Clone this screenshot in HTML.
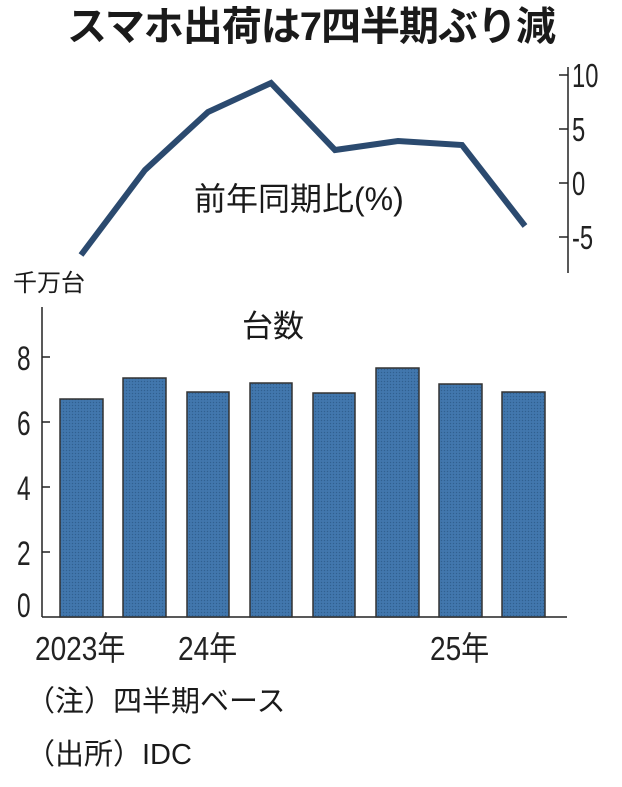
<!DOCTYPE html>
<html><head><meta charset="utf-8"><style>
html,body{margin:0;padding:0;background:#fff;}
body{width:622px;height:787px;position:relative;overflow:hidden;font-family:"Liberation Sans","Noto Sans CJK JP",sans-serif;color:#1a1a1a;}
.t{position:absolute;white-space:nowrap;line-height:1;}
</style></head><body>
<div class="t" style="left:0;width:622px;text-align:center;top:7px;font-size:40px;font-weight:bold;letter-spacing:-1px;">スマホ出荷は7四半期ぶり減</div>
<svg width="622" height="787" style="position:absolute;left:0;top:0">
<defs>
<pattern id="p" width="3" height="3" patternUnits="userSpaceOnUse">
<rect width="3" height="3" fill="#3f74aa"/><rect width="1" height="1" fill="#31608f"/><rect x="1.5" y="1.5" width="1" height="1" fill="#4a80b5"/>
</pattern>
</defs>
<line x1="568" y1="67" x2="568" y2="273" stroke="#222" stroke-width="1.5"/>
<g stroke="#222" stroke-width="1.5">
<line x1="559" y1="75" x2="568" y2="75"/><line x1="559" y1="129" x2="568" y2="129"/>
<line x1="559" y1="183" x2="568" y2="183"/><line x1="559" y1="237" x2="568" y2="237"/>
</g>
<g font-family="Liberation Sans, sans-serif" font-size="33" fill="#222" transform="translate(572,0) scale(0.72,1)">
<text x="0" y="87">10</text><text x="0" y="141">5</text><text x="0" y="195">0</text><text x="0" y="249">-5</text>
</g>
<polyline points="81,255 145,170 208,112 271,83 335,150 398,141 462,145 525,226" fill="none" stroke="#2b4a6f" stroke-width="6" stroke-linejoin="miter"/>
<line x1="42" y1="307" x2="42" y2="617" stroke="#222" stroke-width="1.5"/>
<line x1="42" y1="617" x2="567" y2="617" stroke="#222" stroke-width="1.5"/>
<g stroke="#222" stroke-width="1.5">
<line x1="42" y1="357" x2="50" y2="357"/><line x1="42" y1="422" x2="50" y2="422"/>
<line x1="42" y1="487" x2="50" y2="487"/><line x1="42" y1="552" x2="50" y2="552"/>
</g>
<g fill="url(#p)" stroke="#333" stroke-width="1.5">
<rect x="60" y="399" width="43" height="218"/>
<rect x="123" y="378" width="43" height="239"/>
<rect x="187" y="392" width="42" height="225"/>
<rect x="250" y="383" width="42" height="234"/>
<rect x="313" y="393" width="42" height="224"/>
<rect x="376" y="368" width="43" height="249"/>
<rect x="439" y="384" width="43" height="233"/>
<rect x="502" y="392" width="43" height="225"/>
</g>
<g font-family="Liberation Sans, sans-serif" font-size="34" fill="#222" transform="translate(17,0) scale(0.72,1)">
<text x="0" y="370">8</text><text x="0" y="435">6</text><text x="0" y="500">4</text><text x="0" y="565">2</text><text x="0" y="617">0</text>
</g>
<g font-family="Liberation Sans, Noto Sans CJK JP, sans-serif" font-size="33" fill="#222">
<text transform="translate(35,660) scale(0.85,1)">2023年</text>
<text transform="translate(178,660) scale(0.85,1)">24年</text>
<text transform="translate(430,660) scale(0.85,1)">25年</text>
</g>
</svg>
<div class="t" style="left:194px;top:183px;font-size:32px;">前年同期比(%)</div>
<div class="t" style="left:13px;top:272px;font-size:24px;">千万台</div>
<div class="t" style="left:242px;top:311px;font-size:31px;">台数</div>
<div class="t" style="left:26px;top:688px;font-size:29px;">（注）四半期ベース</div>
<div class="t" style="left:26px;top:741px;font-size:29px;">（出所）IDC</div>
</body></html>
